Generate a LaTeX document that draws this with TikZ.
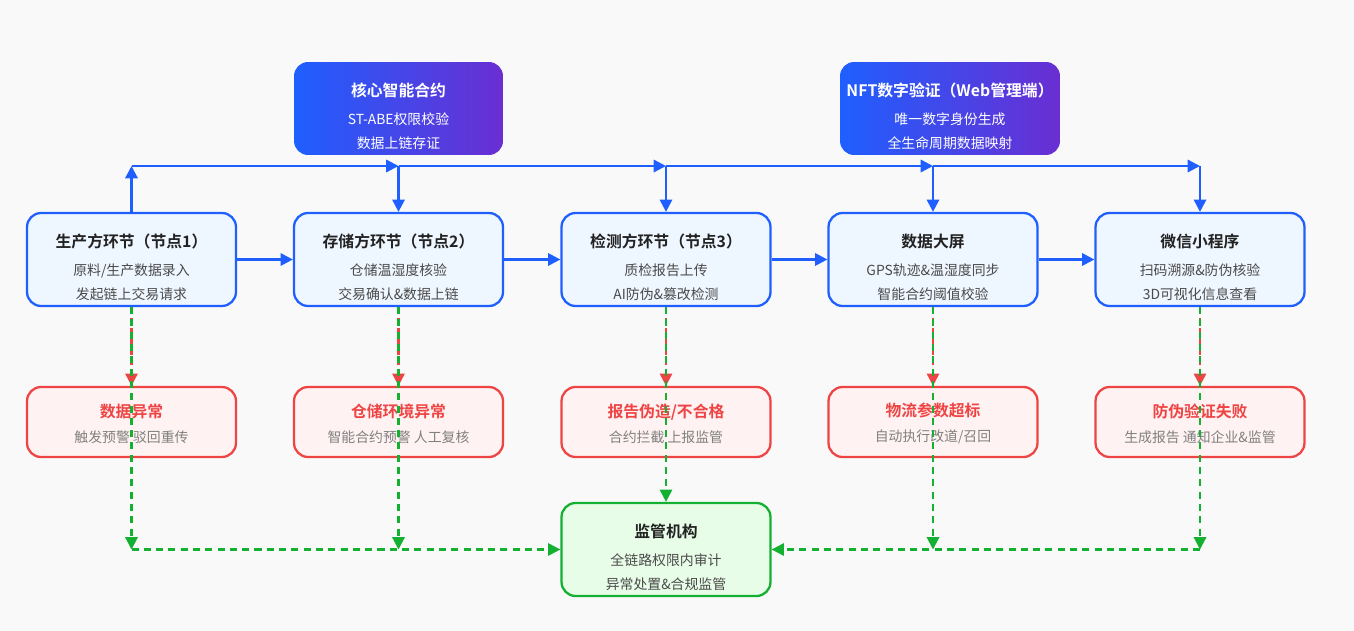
\documentclass[tikz,border=0pt]{standalone}
\usepackage{fontspec}
\setmainfont{Noto Sans CJK SC}[BoldFont=Noto Sans CJK SC Bold]
\usetikzlibrary{arrows.meta}
\definecolor{bl}{HTML}{1F5FFF}
\definecolor{blf}{HTML}{EEF6FF}
\definecolor{rd}{HTML}{EF4444}
\definecolor{rdf}{HTML}{FFF2F2}
\definecolor{gn}{HTML}{14B032}
\definecolor{gnf}{HTML}{E8FDE8}
\definecolor{pu}{HTML}{6A2ED2}
\definecolor{tx}{HTML}{222222}
\definecolor{sub}{HTML}{4A4A4A}
\definecolor{sub2}{HTML}{808080}
\definecolor{bg}{HTML}{F9F9F9}
\newcommand{\mtxt}[3]{{\fontsize{9pt}{10pt}\selectfont\bfseries\color{tx}\rule{0pt}{17pt}#1}\\[3.5pt]{\fontsize{7.9pt}{9pt}\selectfont\color{sub}#2}\\[2pt]{\fontsize{7.9pt}{9pt}\selectfont\color{sub}#3}}
\newcommand{\ttxt}[3]{{\fontsize{9pt}{10pt}\selectfont\bfseries\rule{0pt}{17pt}#1}\\[3.5pt]{\fontsize{7.9pt}{9pt}\selectfont #2}\\[2pt]{\fontsize{7.9pt}{9pt}\selectfont #3}}
\newcommand{\wtxt}[2]{{\fontsize{9pt}{10pt}\selectfont\bfseries\color{rd}\rule{0pt}{9.5pt}#1}\\[2pt]{\fontsize{7.9pt}{9pt}\selectfont\color{sub2}#2}}
\begin{document}
\begin{tikzpicture}[x=0.02cm,y=-0.02cm,
 box/.style={rounded corners=8pt,line width=1.3pt,minimum width=4.18cm,align=center,inner sep=0pt},
 main/.style={box,draw=bl,fill=blf,minimum height=1.86cm},
 warn/.style={box,draw=rd,fill=rdf,minimum height=1.4cm},
 reg/.style={box,draw=gn,fill=gnf,minimum height=1.86cm},
 top/.style={rounded corners=8pt,minimum height=1.86cm,left color=bl,right color=pu,text=white,align=center,inner sep=0pt},
 blk/.style={line width=1.3pt,draw=bl,-{Triangle[length=7pt,width=7pt]}},
 rarr/.style={line width=1.2pt,draw=rd,dashed,-{Triangle[length=7pt,width=7pt]}},
 garr/.style={line width=1.2pt,draw=gn,dash pattern=on 4pt off 3pt,-{Triangle[length=7pt,width=7pt]}},
]
\fill[bg] (0,0) rectangle (1354,631);
\useasboundingbox (0,0) rectangle (1354,631);

\node[top,minimum width=4.18cm] (sc) at (398.5,108.5) {\ttxt{核心智能合约}{ST-ABE权限校验}{数据上链存证}};
\node[top,minimum width=4.4cm] (nft) at (950,108.5) {\ttxt{NFT数字验证（Web管理端）}{唯一数字身份生成}{全生命周期数据映射}};

\node[main] (n1) at (131.5,259.5) {\mtxt{生产方环节（节点1）}{原料/生产数据录入}{发起链上交易请求}};
\node[main] (n2) at (398.5,259.5) {\mtxt{存储方环节（节点2）}{仓储温湿度核验}{交易确认\&数据上链}};
\node[main] (n3) at (666,259.5) {\mtxt{检测方环节（节点3）}{质检报告上传}{AI防伪\&篡改检测}};
\node[main] (n4) at (933,259.5) {\mtxt{数据大屏}{GPS轨迹\&温湿度同步}{智能合约阈值校验}};
\node[main] (n5) at (1200,259.5) {\mtxt{微信小程序}{扫码溯源\&防伪核验}{3D可视化信息查看}};

\node[warn] (w1) at (131.5,422) {\wtxt{数据异常}{触发预警 驳回重传}};
\node[warn] (w2) at (398.5,422) {\wtxt{仓储环境异常}{智能合约预警 人工复核}};
\node[warn] (w3) at (666,422) {\wtxt{报告伪造/不合格}{合约拦截 上报监管}};
\node[warn] (w4) at (933,422) {\wtxt{物流参数超标}{自动执行改道/召回}};
\node[warn] (w5) at (1200,422) {\wtxt{防伪验证失败}{生成报告 通知企业\&监管}};

\node[reg] (rg) at (666,549.5) {\mtxt{监管机构}{全链路权限内审计}{异常处置\&合规监管}};

\coordinate (b1) at (131.5,166);
\coordinate (b2) at (398.5,166);
\coordinate (b3) at (666,166);
\coordinate (b4) at (933,166);
\coordinate (b5) at (1200,166);
\draw[blk] (n1.north) -- (b1);
\draw[blk] (b1) -- (b2);
\draw[blk] (b2) -- (b3);
\draw[blk] (b3) -- (b4);
\draw[blk] (b4) -- (b5);
\draw[blk] (b2) -- (n2.north);
\draw[blk] (b3) -- (n3.north);
\draw[blk] (b4) -- (n4.north);
\draw[blk] (b5) -- (n5.north);
\draw[blk] (n1) -- (n2);
\draw[blk] (n2) -- (n3);
\draw[blk] (n3) -- (n4);
\draw[blk] (n4) -- (n5);

\foreach \i in {1,...,5}{\draw[rarr] (n\i.south) -- (w\i.north);}

\coordinate (g1) at (131.5,549.5);
\coordinate (g2) at (398.5,549.5);
\coordinate (g4) at (933,549.5);
\coordinate (g5) at (1200,549.5);
\foreach \i in {1,2,4,5}{\draw[garr] (n\i.south) -- (g\i);}
\draw[garr] (n3.south) -- (rg.north);
\draw[garr] (g1) -- (rg.west);
\draw[garr] (g5) -- (rg.east);
\end{tikzpicture}
\end{document}
